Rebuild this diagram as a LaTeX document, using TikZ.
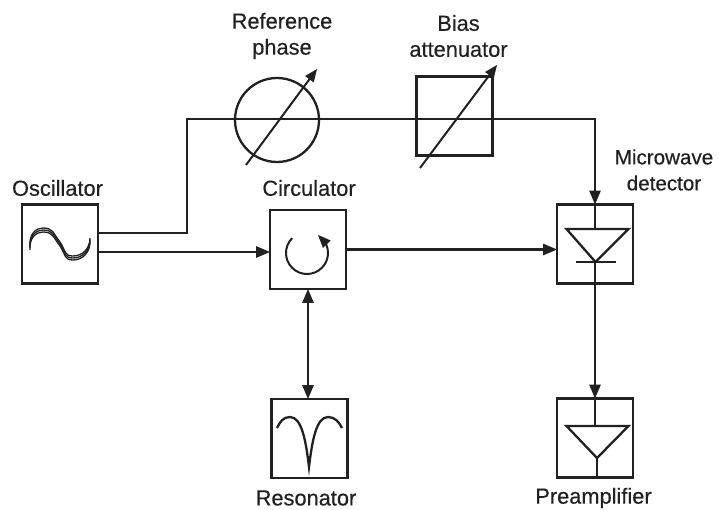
\documentclass[tikz,border=0pt]{standalone}
\usepackage{fontspec}
\setmainfont{Liberation Sans}[FakeBold=0.4]
\usetikzlibrary{positioning,arrows,calc}
\definecolor{ink}{gray}{0.13}
\tikzset{
  block/.style={draw=ink,line width=2.3pt,minimum width=76pt,minimum height=79pt,inner sep=0pt,outer sep=0pt},
  signal/.style={draw=ink,line width=2.3pt,-{triangle 45[scale=1.15]}},
  wire/.style={draw=ink,line width=2.3pt},
  tune/.style={draw=ink,line width=2pt,-{triangle 45[scale=1.3]}},
  caption/.style={text=ink,inner sep=0pt,align=center,font=\fontsize{21.8}{26}\selectfont}
}
\begin{document}
\begin{tikzpicture}[x=1pt,y=1pt]
    \useasboundingbox (0,0) rectangle (719,-510);

    \node[block] (osc) at (60,-244) {};
    \node[block, right=172pt of osc, yshift=-5.5pt] (circ) {};
    \node[block, right=211pt of circ, yshift=5.5pt] (det) {};
    \node[block, below=110pt of circ, xshift=1.5pt] (res) {};
    \node[block, below=115pt of det] (pre) {};
    \node[block] (atten) at (454.5,-116) {};
    \node[draw=ink,line width=2.3pt,circle,minimum size=84pt,inner sep=0pt,outer sep=0pt] (phase) at (277,-120) {};

    \node[caption] (oscLabel) at (57.5,-188) {Oscillator};
    \node[caption] (circLabel) at (309,-188) {Circulator};
    \node[caption] (phaseLabel) at (282,-36) {Reference\\phase};
    \node[caption] (attenLabel) at (458.5,-36) {Bias\\attenuator};
    \node[caption,font=\fontsize{20.6}{26}\selectfont] (detLabel) at (664,-170) {Microwave\\detector};
    \node[caption] (resLabel) at (306,-498) {Resonator};
    \node[caption] (preLabel) at (593.5,-498) {Preamplifier};

    \coordinate (oscUp) at ($(osc.east)+(0,11)$);
    \coordinate (oscDown) at ($(osc.east)+(0,-8)$);
    \coordinate (bend) at (187,-119);
    \coordinate (circIn) at (circ.west |- oscDown);
    \coordinate (circOut) at ($(circ.east)$);
    \coordinate (detIn) at (det.west |- circOut);

    \draw[signal] (oscUp) -| (bend) -| (det.north);
    \draw[signal] (oscDown) -- (circIn);
    \draw[signal] (circOut) -- (detIn);
    \draw[signal,{triangle 45[scale=1.15]}-{triangle 45[scale=1.15]}] (circ.south) -- (res.north -| circ.south);
    \draw[signal] (det.south) -- (pre.north);

    % tuning arrows
    \coordinate (phaseA) at ($(phase)+(-31,-45)$);
    \coordinate (phaseB) at ($(phase)+(40,51)$);
    \coordinate (attenA) at ($(atten)+(-34.5,-52)$);
    \coordinate (attenB) at ($(atten)+(42.5,51)$);
    \draw[tune] (phaseA) -- (phaseB);
    \draw[tune] (attenA) -- (attenB);

    % oscillator sine
    \foreach \d in {-2,0,2}{
      \draw[wire,line width=1.3pt] ($(osc)+(-30,-4+\d)$) .. controls +(-1,12) and +(-7,0) .. ($(osc)+(-17,14+\d)$)
        .. controls +(10,0) and +(-7,9) .. ($(osc)+(0,0+\d)$)
        .. controls +(6,-9) and +(-9,0) .. ($(osc)+(13,-14+\d)$)
        .. controls +(10,0) and +(0,-10) .. ($(osc)+(30,4+\d)$);
    }

    % circulator
    \coordinate (circTip) at ($(circ)+(10,14.5)$);
    \draw[tune] ($(circ)+(-1,-3.5)+(135:21pt)$) arc[start angle=135,end angle=390,radius=21pt] -- (circTip);

    % diode
    \coordinate (diodeL) at ($(det)+(-28.5,15)$);
    \coordinate (diodeR) at ($(det)+(33.5,15)$);
    \coordinate (diodeTip) at ($(det)+(0.5,-18)$);
    \draw[wire,line join=miter] (diodeL) -- (diodeR) -- (diodeTip) -- cycle;
    \draw[wire] (det.north) -- (det.north |- diodeL);
    \draw[wire] (det.south) -- (det.south |- diodeTip);
    \draw[wire] ($(diodeTip)+(-20,0)$) -- ($(diodeTip)+(20,0)$);

    % resonator
    \coordinate (dip) at ($(res)+(-0.5,-28.5)$);
    \draw[wire] ($(res)+(-32.5,10.5)$) .. controls +(3,6) and +(-7,0) .. ($(res)+(-19.5,21.5)$)
      .. controls +(12,0) and +(-3,25) .. (dip)
      .. controls +(3,25) and +(-12,0) .. ($(res)+(18.5,21.5)$)
      .. controls +(7,0) and +(-3,6) .. ($(res)+(32.5,10.5)$);

    % preamplifier
    \coordinate (ampL) at ($(pre)+(-28.5,12)$);
    \coordinate (ampR) at ($(pre)+(33.5,12)$);
    \coordinate (ampTip) at ($(pre)+(2,-20)$);
    \draw[wire,line join=miter] (ampL) -- (ampR) -- (ampTip) -- cycle;
    \draw[wire] (pre.north) -- (pre.north |- ampL);
    \draw[wire] (ampTip) -- (ampTip |- pre.south);
  \end{tikzpicture}
\end{document}
